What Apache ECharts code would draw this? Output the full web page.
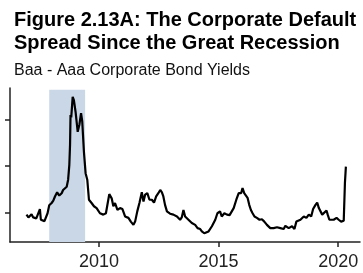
<!DOCTYPE html>
<html>
<head>
<meta charset="utf-8">
<script src="https://cdn.jsdelivr.net/npm/echarts@6/dist/echarts.min.js"></script>
<style>
  html, body { margin: 0; padding: 0; background: #fff; }
  #main { width: 363px; height: 273px; }
</style>
</head>
<body>
<div id="main"></div>
<script>
// Baa - Aaa spread (year fraction, percentage points)
const years = [
  2006.97, 2007.05, 2007.11, 2007.18, 2007.25, 2007.32, 2007.38, 2007.45, 2007.53, 2007.57,
  2007.65, 2007.72, 2007.77, 2007.85, 2007.92, 2008.02, 2008.09, 2008.16, 2008.25, 2008.34,
  2008.44, 2008.50, 2008.58, 2008.65, 2008.71, 2008.76, 2008.79, 2008.81, 2008.84, 2008.90,
  2008.95, 2009.02, 2009.11, 2009.18, 2009.25, 2009.30, 2009.37, 2009.44, 2009.51, 2009.58,
  2009.69, 2009.79, 2009.90, 2010.04, 2010.12, 2010.18, 2010.29, 2010.36, 2010.43, 2010.53,
  2010.60, 2010.67, 2010.77, 2010.88, 2010.98, 2011.09, 2011.23, 2011.33, 2011.44, 2011.51,
  2011.60, 2011.69, 2011.79, 2011.86, 2011.93, 2012.02, 2012.11, 2012.21, 2012.30, 2012.39,
  2012.48, 2012.56, 2012.63, 2012.69, 2012.76, 2012.84, 2012.97, 2013.11, 2013.26, 2013.39,
  2013.46, 2013.53, 2013.60, 2013.74, 2013.88, 2014.02, 2014.12, 2014.23, 2014.30, 2014.40,
  2014.48, 2014.58, 2014.72, 2014.86, 2014.95, 2015.06, 2015.13, 2015.24, 2015.35, 2015.46,
  2015.52, 2015.63, 2015.74, 2015.84, 2015.94, 2016.00, 2016.07, 2016.14, 2016.21, 2016.28,
  2016.35, 2016.42, 2016.50, 2016.60, 2016.71, 2016.81, 2016.91, 2017.02, 2017.16, 2017.30,
  2017.44, 2017.58, 2017.72, 2017.79, 2017.93, 2018.07, 2018.17, 2018.25, 2018.42, 2018.56,
  2018.67, 2018.77, 2018.87, 2018.95, 2019.05, 2019.12, 2019.19, 2019.26, 2019.33, 2019.39,
  2019.51, 2019.56, 2019.63, 2019.70, 2019.81, 2019.93, 2020.02, 2020.12, 2020.19, 2020.23,
  2020.28, 2020.32
];
const spread = [
  0.96, 0.90, 0.89, 0.97, 0.90, 0.93, 0.88, 0.92, 1.08, 0.85,
  0.86, 0.82, 0.78, 0.99, 1.16, 1.21, 1.26, 1.35, 1.44, 1.37,
  1.42, 1.49, 1.52, 1.56, 1.71, 2.03, 2.46, 3.10, 3.05, 3.49,
  3.42, 3.17, 2.74, 2.89, 3.14, 2.96, 2.31, 1.85, 1.71, 1.28,
  1.21, 1.14, 1.10, 0.99, 1.02, 0.96, 0.99, 0.98, 1.40, 1.31,
  1.14, 1.21, 1.06, 1.10, 1.08, 0.92, 0.89, 0.81, 0.74, 0.81,
  1.03, 1.21, 1.44, 1.24, 1.39, 1.42, 1.28, 1.28, 1.22, 1.35,
  1.42, 1.49, 1.44, 1.35, 1.17, 1.03, 0.98, 0.96, 0.92, 0.85,
  0.90, 1.06, 0.92, 0.85, 0.78, 0.74, 0.67, 0.65, 0.60, 0.56,
  0.53, 0.60, 0.71, 0.85, 0.99, 1.03, 0.92, 0.99, 0.96, 0.95,
  0.92, 1.10, 1.28, 1.42, 1.42, 1.53, 1.42, 1.46, 1.32, 1.17,
  1.06, 0.99, 0.92, 0.89, 0.85, 0.86, 0.81, 0.74, 0.67, 0.67,
  0.69, 0.67, 0.65, 0.72, 0.67, 0.71, 0.65, 0.81, 0.85, 0.92,
  0.89, 0.96, 0.92, 1.08, 1.17, 1.22, 1.10, 1.06, 0.96, 0.99,
  1.05, 0.96, 0.85, 0.89, 0.85, 0.89, 0.85, 0.81, 0.79, 0.83,
  1.64, 1.99
];
const xTicks = [2010, 2015, 2020];
const yTicks = [1, 2, 3];
const recession = [2007.92, 2009.42];

const chart = echarts.init(document.getElementById("main"));

const lineData = years.map((y, i) => [y, spread[i]]);

const option = {
    animation: false,
    title: {
        text: "Figure 2.13A: The Corporate Default\nSpread Since the Great Recession",
        subtext: "Baa - Aaa Corporate Bond Yields",
        left: 9,
        top: 4,
        itemGap: 8,
        textStyle: {
            fontFamily: "Liberation Sans",
            fontWeight: "bold",
            fontSize: 20,
            lineHeight: 23,
            color: "#000"
        },
        subtextStyle: {
            fontFamily: "Liberation Sans",
            fontSize: 16,
            color: "#111"
        }
    },
    grid: {
        left: 10,
        right: 3,
        top: 88,
        bottom: 31
    },
    xAxis: {
        type: "value",
        min: 2006.28,
        max: 2020.91,
        splitLine: { show: false },
        axisLine: { lineStyle: { color: "#222", width: 1.5 } },
        axisTick: {
            customValues: xTicks,
            length: 5,
            lineStyle: { color: "#222", width: 1.5 }
        },
        axisLabel: {
            customValues: xTicks,
            margin: 11,
            fontFamily: "Liberation Sans",
            fontSize: 18,
            color: "#222",
            formatter: (v) => String(v)
        }
    },
    yAxis: {
        type: "value",
        min: 0.372,
        max: 3.68,
        splitLine: { show: false },
        axisLine: { show: true, lineStyle: { color: "#222", width: 1.5 } },
        axisTick: {
            show: true,
            customValues: yTicks,
            length: 5,
            lineStyle: { color: "#222", width: 1.5 }
        },
        axisLabel: { show: false }
    },
    series: [
        {
            type: "line",
            data: lineData,
            showSymbol: false,
            lineStyle: { color: "#000", width: 2.2 },
            markArea: {
                silent: true,
                itemStyle: { color: "#c9d7e6" },
                data: [[{ xAxis: recession[0], yAxis: 0.372 }, { xAxis: recession[1], yAxis: 3.64 }]]
            }
        }
    ]
};
chart.setOption(option);
</script>
</body>
</html>
